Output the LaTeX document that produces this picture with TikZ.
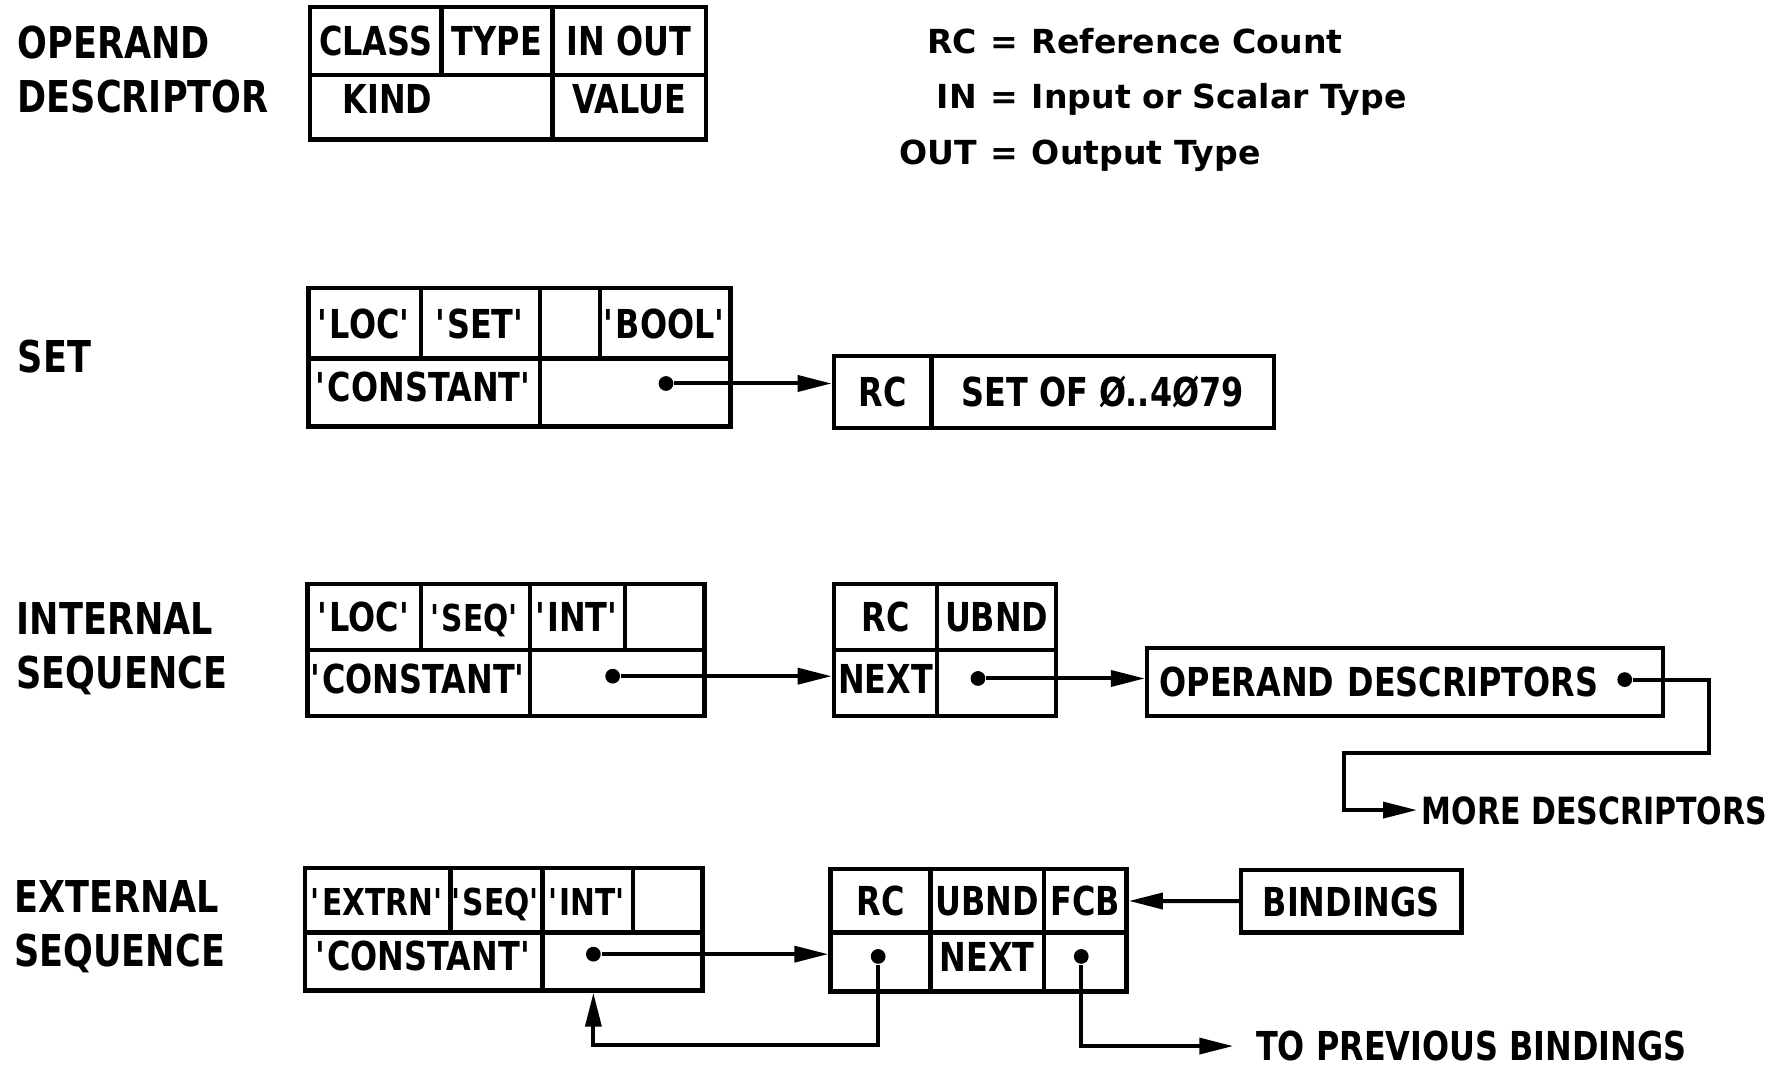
\documentclass[tikz,border=0pt]{standalone}
\usepackage{fontspec}
\setmainfont{DejaVu Sans}
\newfontfamily\boxfont{DejaVu Sans}[FakeStretch=0.8]
\usetikzlibrary{arrows.meta,positioning}
\newcommand{\tq}[1]{\textquotesingle#1\textquotesingle}

\begin{document}
\begin{tikzpicture}[>={Triangle[length=3mm,width=1.4mm]},
  cell/.style 2 args={draw,line width=1.1pt,inner sep=0pt,minimum width=#1cm,minimum height=#2cm,
    text height=0.26cm,text depth=0pt,font=\boxfont\bfseries\fontsize{10}{12}\selectfont},
  raised/.style={text depth=#1},
  small/.style={font=\boxfont\bfseries\fontsize{9.3}{12}\selectfont},
  side/.style={anchor=west,inner sep=0pt,align=left,font=\boxfont\bfseries\fontsize{11}{13.6}\selectfont},
  word/.style={anchor=west,inner sep=1pt,text height=0.26cm,text depth=0pt,font=\boxfont\bfseries\fontsize{10}{12}\selectfont},
  dot/.style={circle,fill,inner sep=0pt,minimum size=0.13cm},
  link/.style={->,line width=1pt}]
\fill[white] (0,0) rectangle (15.68,-9.39);
\useasboundingbox (0,0) rectangle (15.68,-9.39);

% operand descriptor
\node[side] (odlbl) at (0.15,-0.61) {OPERAND\\DESCRIPTOR};
\node[cell={1.16}{0.60}] (odclass) at (3.31,-0.36) {CLASS};
\node[cell={0.98}{0.60}] (odtype) at (4.38,-0.36) {TYPE};
\node[cell={1.35}{0.60}] (odinout) at (5.545,-0.36) {IN OUT};
\node[cell={2.14}{0.57},raised=0.15cm,text width=1.56cm,align=left] (odkind) at (3.80,-0.945) {KIND};
\node[cell={1.35}{0.57},raised=0.15cm] (odvalue) at (5.545,-0.945) {VALUE};
\node[anchor=west,inner sep=0pt,font=\bfseries\fontsize{8.3}{13.9}\selectfont] (legend) at (7.92,-0.86)
  {\begin{tabular}{@{}r@{\hspace{0.12cm}=\hspace{0.12cm}}l@{}}
   RC & Reference Count\\
   IN & Input or Scalar Type\\
   OUT & Output Type
   \end{tabular}};

% set
\node[side] (setlbl) at (0.15,-3.14) {SET};
\node[cell={0.99}{0.62}] (setloc) at (3.215,-2.85) {\tq{LOC}};
\node[cell={1.05}{0.62}] (setset) at (4.235,-2.85) {\tq{SET}};
\node[cell={0.53}{0.62}] (setgap) at (5.025,-2.85) {};
\node[cell={1.15}{0.62}] (setbool) at (5.865,-2.85) {\tq{BOOL}};
\node[cell={2.04}{0.60},raised=0.10cm] (setkind) at (3.74,-3.46) {\tq{CONSTANT}};
\node[cell={1.68}{0.60}] (setval) at (5.60,-3.46) {};
\node[dot] (sd) at (5.87,-3.38) {};
\node[cell={0.86}{0.63}] (setrc) at (7.78,-3.455) {RC};
\node[cell={3.02}{0.63}] (setof) at (9.72,-3.455) {SET OF Ø..4Ø79};
\draw[link] (sd) -- (sd -| setrc.west);

% internal sequence
\node[side] (inlbl) at (0.14,-5.72) {INTERNAL\\SEQUENCE};
\node[cell={1.00}{0.58}] (inloc) at (3.21,-5.44) {\tq{LOC}};
\node[cell={0.96}{0.58},small] (inseq) at (4.19,-5.44) {\tq{SEQ}};
\node[cell={0.84}{0.58}] (inint) at (5.09,-5.44) {\tq{INT}};
\node[cell={0.70}{0.58}] (ingap) at (5.86,-5.44) {};
\node[cell={1.96}{0.58},raised=0.08cm] (inkind) at (3.69,-6.02) {\tq{CONSTANT}};
\node[cell={1.54}{0.58}] (inval) at (5.44,-6.02) {};
\node[dot] (id1) at (5.40,-5.96) {};
\node[cell={0.91}{0.58}] (inrc) at (7.805,-5.44) {RC};
\node[cell={1.05}{0.58}] (inubnd) at (8.785,-5.44) {UBND};
\node[cell={0.91}{0.58},raised=0.08cm] (innext) at (7.805,-6.02) {NEXT};
\node[cell={1.05}{0.58}] (inptr) at (8.785,-6.02) {};
\node[dot] (id2) at (8.62,-5.98) {};
\node[cell={4.55}{0.60},text width=4.33cm,align=left] (opds) at (12.385,-6.01) {OPERAND DESCRIPTORS};
\node[dot] (id3) at (14.32,-5.99) {};
\node[word,font=\boxfont\bfseries\fontsize{9.4}{12}\selectfont] (more) at (12.49,-7.14) {MORE DESCRIPTORS};
\draw[link] (id1) -- (id1 -| innext.west);
\draw[link] (id2) -- (id2 -| opds.west);
\draw[link] (id3) -- ++(0.74,0) |- ([xshift=-0.64cm,yshift=0.50cm]more.west) |- (more.west);

% external sequence
\node[side] (exlbl) at (0.12,-8.165) {EXTERNAL\\SEQUENCE};
\node[cell={1.28}{0.57},small] (exextrn) at (3.33,-7.935) {\tq{EXTRN}};
\node[cell={0.81}{0.57},small] (exseq) at (4.375,-7.935) {\tq{SEQ}};
\node[cell={0.80}{0.57},small] (exint) at (5.18,-7.935) {\tq{INT}};
\node[cell={0.61}{0.57}] (exgap) at (5.885,-7.935) {};
\node[cell={2.09}{0.51},raised=0.11cm] (exkind) at (3.735,-8.475) {\tq{CONSTANT}};
\node[cell={1.41}{0.51}] (exval) at (5.485,-8.475) {};
\node[dot] (ed1) at (5.23,-8.41) {};
\node[cell={0.88}{0.56}] (exrc) at (7.76,-7.94) {RC};
\node[cell={1.00}{0.56}] (exubnd) at (8.70,-7.94) {UBND};
\node[cell={0.73}{0.56}] (exfcb) at (9.565,-7.94) {FCB};
\node[cell={0.88}{0.52}] (exptr) at (7.76,-8.48) {};
\node[cell={1.00}{0.52},raised=0.10cm] (exnext) at (8.70,-8.48) {NEXT};
\node[cell={0.73}{0.52}] (exprev) at (9.565,-8.48) {};
\node[dot] (ed2) at (7.74,-8.43) {};
\node[dot] (ed3) at (9.53,-8.43) {};
\node[cell={1.94}{0.55}] (bind) at (11.91,-7.945) {BINDINGS};
\node[word] (prev) at (11.03,-9.22) {TO PREVIOUS BINDINGS};
\draw[link] (ed1) -- (ed1 -| exptr.west);
\draw[link] (bind) -- (exfcb);
\draw[link] (ed2) -- ++(0,-0.78) -| (ed1 |- exval.south);
\draw[link] (ed3) |- ([xshift=-0.16cm]prev.west);
\end{tikzpicture}
\end{document}
